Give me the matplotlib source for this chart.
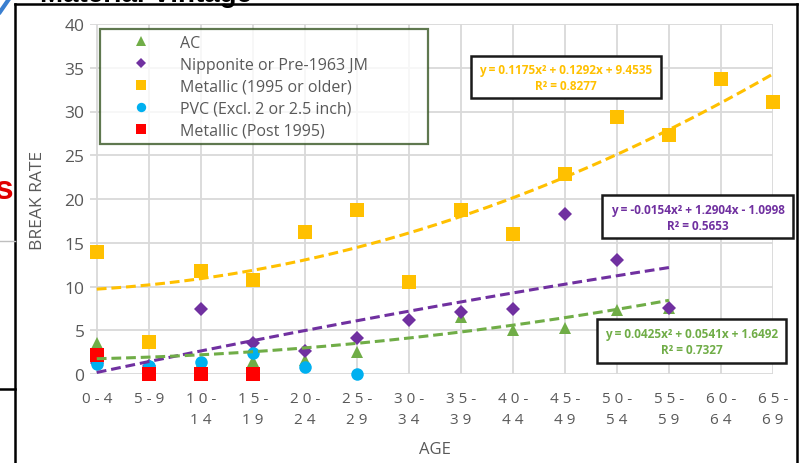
import numpy as np
import matplotlib
matplotlib.use("Agg")
import matplotlib.pyplot as plt
from matplotlib.lines import Line2D
from matplotlib.patches import Rectangle

plt.rcParams['font.family'] = ['Open Sans', 'DejaVu Sans']

# ---- data -------------------------------------------------------------
age_groups = ["0-4", "5-9", "10-14", "15-19", "20-24", "25-29", "30-34",
              "35-39", "40-44", "45-49", "50-54", "55-59", "60-64", "65-69"]
tick_labels = ["0 - 4", "5 - 9", "1 0 -\n1 4", "1 5 -\n1 9", "2 0 -\n2 4",
               "2 5 -\n2 9", "3 0 -\n3 4", "3 5 -\n3 9", "4 0 -\n4 4",
               "4 5 -\n4 9", "5 0 -\n5 4", "5 5 -\n5 9", "6 0 -\n6 4",
               "6 5 -\n6 9"]
nan = np.nan
ac = [3.5, 1.0, 1.3, 1.5, 1.6, 2.5, nan, 6.5, 5.0, 5.3, 7.3, 7.6, nan, nan]
nipponite = [1.3, 0.9, 7.4, 3.6, 2.6, 4.1, 6.2, 7.1, 7.4, 18.3, 13.0, 7.5, nan, nan]
metallic_old = [14.0, 3.7, 11.8, 10.7, 16.2, 18.7, 10.5, 18.8, 16.0, 22.9,
                29.4, 27.3, 33.7, 31.1]
pvc = [1.2, 0.9, 1.4, 2.4, 0.8, 0.0, nan, nan, nan, nan, nan, nan, nan, nan]
metallic_post = [2.2, 0.0, 0.0, 0.0, nan, nan, nan, nan, nan, nan, nan, nan, nan, nan]

# quadratic trendline coefficients (a, b, c) and R^2
fit_metallic_old = (0.1175, 0.1292, 9.4535)
r2_metallic_old = 0.8277
fit_nipponite = (-0.0154, 1.2904, -1.0998)
r2_nipponite = 0.5653
fit_ac = (0.0425, 0.0541, 1.6492)
r2_ac = 0.7327

# ---- styling ----------------------------------------------------------
C_AC = "#70AD47"
C_NIP = "#7030A0"
C_MOLD = "#FFC000"
C_PVC = "#00B0F0"
C_MPOST = "#FF0000"
GRAY = "#595959"

W, H = 811, 464
fig = plt.figure(figsize=(W / 100, H / 100), dpi=100)


def fx(px):
    return px / W


def fy(py):
    return 1 - py / H


ax = fig.add_axes([fx(90), fy(375), fx(773) - fx(90), fy(25) - fy(375)])
x = np.arange(1, len(age_groups) + 1)

series = [
    ("AC", ac, C_AC, "^", 9),
    ("Nipponite or Pre-1963 JM", nipponite, C_NIP, "D", 7),
    ("Metallic (1995 or older)", metallic_old, C_MOLD, "s", 9.5),
    ("PVC (Excl. 2 or 2.5 inch)", pvc, C_PVC, "o", 9),
    ("Metallic (Post 1995)", metallic_post, C_MPOST, "s", 9.5),
]
handles = []
for i, (name, vals, col, mk, ms) in enumerate(series):
    h, = ax.plot(x, vals, linestyle="none", marker=mk, ms=ms, color=col,
                 markeredgewidth=0, label=name, zorder=3 + i * 0.1,
                 clip_on=False)
    handles.append(h)


def quad(coef, xs):
    a, b, c = coef
    return a * xs ** 2 + b * xs + c


for coef, col, xmax in [(fit_metallic_old, C_MOLD, 14),
                        (fit_nipponite, C_NIP, 12),
                        (fit_ac, C_AC, 12)]:
    xs = np.linspace(1, xmax, 200)
    ax.plot(xs, quad(coef, xs), color=col, lw=2.2, linestyle=(0, (3.2, 1.6)),
            zorder=5, clip_on=False)

ax.set_xlim(0.87, 14.0)
ax.set_ylim(0, 40)
ax.set_yticks(np.arange(0, 41, 5))
ax.set_xticks(x)
ax.set_xticklabels(tick_labels, fontsize=11, color=GRAY, linespacing=1.55)
ax.tick_params(axis="y", length=0, pad=4, labelsize=12.5, labelcolor=GRAY)
ax.tick_params(axis="x", length=0, pad=12)
ax.grid(True, color="#D9D9D9", lw=1.3)
ax.set_axisbelow(True)
for s in ax.spines.values():
    s.set_visible(False)

fig.text(fx(38), fy(200), "BREAK RATE", rotation=90, ha="center",
         va="center", fontsize=12.5, color=GRAY)
fig.text(fx(435), fy(450), "AGE", ha="center", va="center", fontsize=12,
         color=GRAY)

leg = fig.legend(handles=handles, loc="upper left",
                 bbox_to_anchor=(fx(100), fy(142), fx(428) - fx(100),
                                 fy(30) - fy(142)),
                 mode="expand", borderaxespad=0, fontsize=11.5,
                 handlelength=4.4, handletextpad=0.25, labelspacing=0.38,
                 markerscale=0.75, fancybox=False, borderpad=0.35,
                 labelcolor=GRAY)
leg.get_frame().set_edgecolor("#375623")
leg.get_frame().set_linewidth(1.6)


def eq_box(x0, y0, x1, y1, coef, r2, col):
    fig.add_artist(Rectangle((fx(x0), fy(y1)), fx(x1) - fx(x0),
                             fy(y0) - fy(y1), transform=fig.transFigure,
                             facecolor="white", edgecolor="#1a1a1a", lw=1.8,
                             zorder=6))
    a, b, c = coef

    def term(v):
        return f"{'+' if v >= 0 else '-'} {abs(v):.4f}"
    line1 = f"y = {a:.4f}x² {term(b)}x {term(c)}"
    line2 = f"R² = {r2:.4f}"
    xc = (x0 + x1) / 2
    h = y1 - y0
    fig.text(fx(xc), fy(y0 + h * 0.33), line1, ha="center", va="center",
             fontsize=8.5, fontweight="bold", color=col, zorder=7)
    fig.text(fx(xc), fy(y0 + h * 0.70), line2, ha="center", va="center",
             fontsize=8.5, fontweight="bold", color=col, zorder=7)


eq_box(471, 57, 661, 99, fit_metallic_old, r2_metallic_old, C_MOLD)
eq_box(602, 196, 793, 239, fit_nipponite, r2_nipponite, C_NIP)
eq_box(597, 320, 786, 364, fit_ac, r2_ac, C_AC)

# surrounding slide elements
def fline(xs, ys, col, lw):
    fig.add_artist(Line2D([fx(v) for v in xs], [fy(v) for v in ys],
                          transform=fig.transFigure, color=col, lw=lw))


fline([15, 15], [5, 470], "black", 1.8)
fline([15, 797], [5, 5], "black", 1.8)
fline([797, 797], [5, 470], "black", 1.8)
fline([0, 15], [242, 242], "#BFBFBF", 1.0)
fline([0, 15], [390, 390], "black", 1.8)
fline([0, 9], [13, 0], "#3A7FD0", 3.0)
fig.text(fx(13), fy(199), "s", ha="right", va="baseline", fontsize=24,
         fontweight="bold", color="#E00000", family="Liberation Sans")
fig.text(fx(40), fy(1.5), "Material Vintage", ha="left", va="baseline",
         fontsize=20, fontweight="bold", color="black",
         family="Liberation Sans")

fig.savefig("out.png", dpi=100)
